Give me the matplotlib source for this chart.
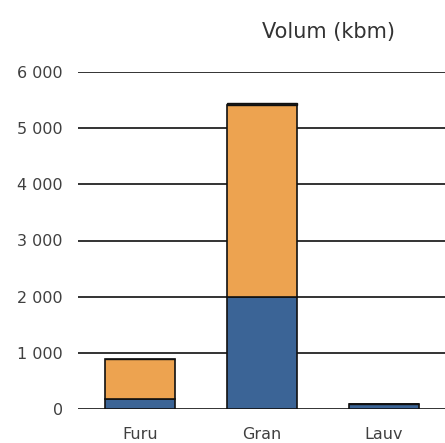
import numpy as np
import matplotlib.pyplot as plt

categories = ['Furu', 'Gran', 'Lauv']
lower = [175, 2000, 90]     # blue part
upper = [710, 3420, 0]      # orange part
top = [0, 30, 0]            # thin dark part on top
yticks = [0, 1000, 2000, 3000, 4000, 5000, 6000]
ytick_labels = ['0', '1 000', '2 000', '3 000', '4 000', '5 000', '6 000']
title = 'Volum (kbm)'

fig = plt.figure(figsize=(4.45, 4.43), dpi=100)
ax = fig.add_axes([78 / 445, 1 - 409 / 443, 1 - 78 / 445, (409 - 72) / 443])

x = np.arange(len(categories))
w = 0.575
ax.bar(x, lower, width=w, color='#3b6496', edgecolor='#111111', linewidth=1.2, zorder=3)
ax.bar(x, upper, width=w, bottom=lower, color='#eda350', edgecolor='#111111', linewidth=1.2, zorder=3)
bottom2 = np.array(lower) + np.array(upper)
ax.bar(x, top, width=w, bottom=bottom2, color='#1a1a1a', edgecolor='#111111', linewidth=1.0, zorder=3)

ax.set_xlim(-0.51, 2.5)
ax.set_ylim(0, 6000)
ax.set_yticks(yticks)
ax.set_yticklabels(ytick_labels)
ax.set_xticks(x)
ax.set_xticklabels(categories)
ax.tick_params(axis='both', length=0, labelsize=11.5, labelcolor='#404040')
ax.tick_params(axis='y', pad=11)
ax.tick_params(axis='x', pad=13)
for s in ax.spines.values():
    s.set_visible(False)
ax.yaxis.grid(True, color='#111111', linewidth=1.2, zorder=0)
ax.set_axisbelow(True)

fig.text(329 / 445, 1 - 32 / 443, title, ha='center', va='center', fontsize=15, color='#333333')

fig.savefig('out.png', dpi=100)
